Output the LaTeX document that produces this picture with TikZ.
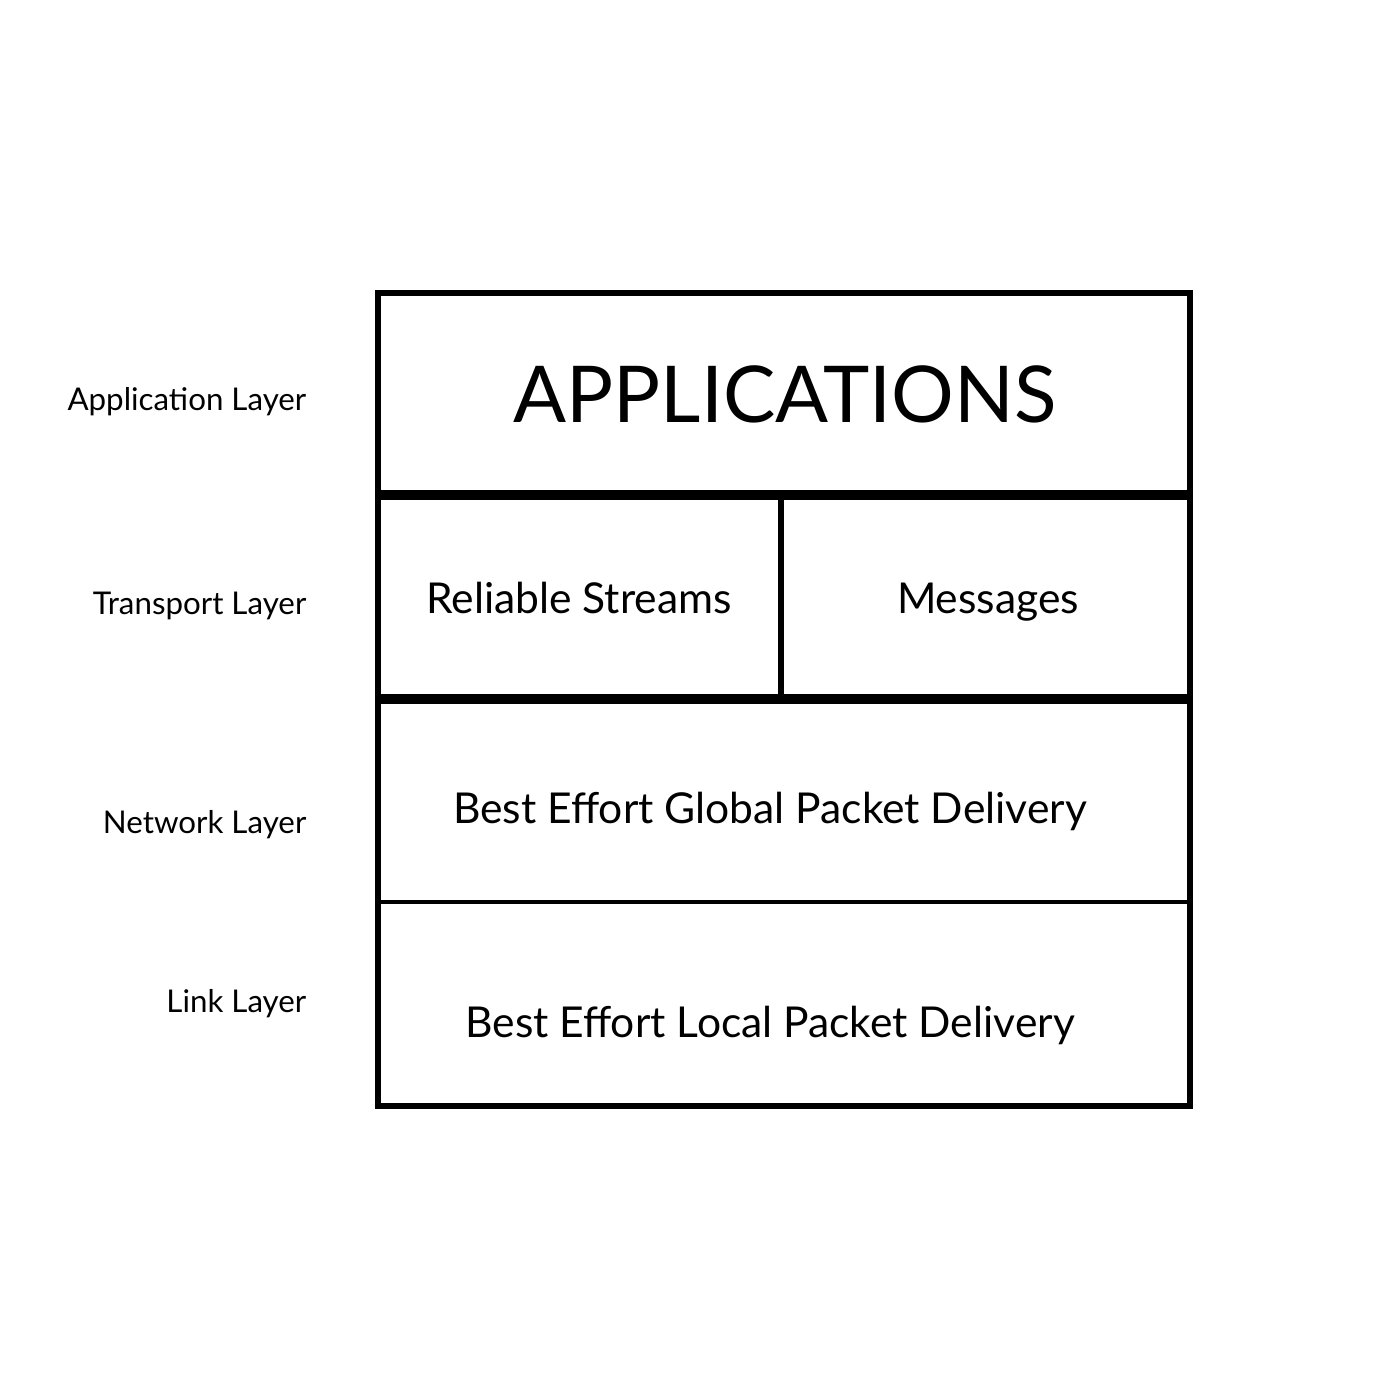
\documentclass[tikz,border=0pt]{standalone}
\usepackage{fontspec}
\setmainfont{Lato}
\usepackage{tikz}

\begin{document}
\begin{tikzpicture}[x=0.01cm, y=-0.01cm,
    layertext/.style ={anchor=base east, inner sep=0pt, font=\fontsize{8.9}{11}\selectfont},
    celltext/.style ={anchor=base, inner sep=0pt, font=\fontsize{12.1}{15}\selectfont}]
   \useasboundingbox (0,0) rectangle (1400,1400);

   % side labels
   \node[layertext] (appl)  at (307,410)  {Application Layer};
   \node[layertext] (tranl) at (307,614)  {Transport Layer};
   \node[layertext] (netl)  at (307,833)  {Network Layer};
   \node[layertext] (linkl) at (307,1012) {Link Layer};

   % stack
   \draw[line width=1.7pt] (378,293) rectangle (1190,1106);
   \draw[line width=3.1pt] (378,495) -- (1190,495);
   \draw[line width=3.1pt] (378,699) -- (1190,699);
   \draw[line width=1.7pt] (781,495) -- (781,699);
   \draw[line width=1.4pt] (378,902) -- (1190,902);

   \node[celltext, font=\fontsize{22.3}{26}\selectfont] (apps) at (785,422) {APPLICATIONS};
   \node[celltext] (rel)   at (579,613)  {Reliable Streams};
   \node[celltext] (msg)   at (988,613)  {Messages};
   \node[celltext] (glob)  at (770,823)  {Best Effort Global Packet Delivery};
   \node[celltext] (local) at (770,1037) {Best Effort Local Packet Delivery};
 \end{tikzpicture}
\end{document}
